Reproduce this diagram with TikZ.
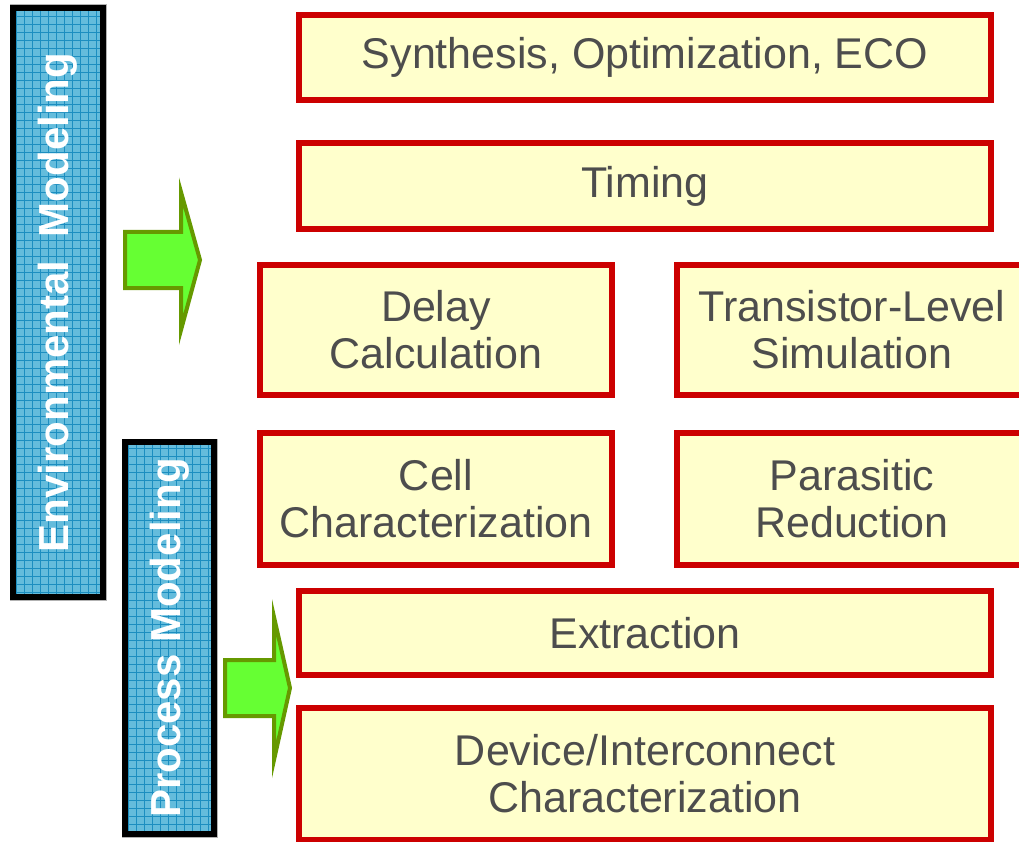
\documentclass[tikz,border=0pt]{standalone}
\usepackage{fontspec}
\setmainfont{Liberation Sans}
\definecolor{boxred}{RGB}{204,0,0}
\definecolor{boxfill}{RGB}{255,255,204}
\definecolor{boxtext}{RGB}{77,77,77}
\definecolor{barfill}{RGB}{100,188,220}
\definecolor{bargrid}{RGB}{28,142,192}
\definecolor{arrowfill}{RGB}{102,255,51}
\definecolor{arrowline}{RGB}{102,153,0}
\tikzset{
  stagenode/.style={draw=boxred, fill=boxfill, line width=6, text=boxtext,
    align=center, inner sep=0pt, font=\fontsize{43}{47}\selectfont},
  bartext/.style={text=white, inner sep=0pt, font=\fontsize{42}{47}\selectfont\bfseries},
  greenarrow/.style={draw=arrowline, fill=arrowfill, line width=4, line join=miter}
}
% name, outer x1, y1, x2, y2, label
\newcommand{\stagebox}[6]{\node[stagenode, minimum width={#4-#2-6}, minimum height={#5-#3-6}] (#1) at ({(#2+#4)/2},{(#3+#5)/2}) {#6};}
% name, outer x1, y1, x2, y2, label
\newcommand{\modelbar}[6]{
  \fill[barfill] (#2,#3) rectangle (#4,#5);
  \begin{scope}
    \clip (#2,#3) rectangle (#4,#5);
    \draw[bargrid, line width=0.8, step=8pt] (#2,#5) grid (#4,#3);
  \end{scope}
  \draw[gray!60, line width=1] (#2,#3) rectangle (#4,#5);
  \draw[black, line width=6] (#2+3,#3+3) rectangle (#4-3,#5-3);
  \node[bartext, rotate=90] (#1) at ({(#2+#4)/2},{(#3+#5)/2}) {#6};
}
\begin{document}
\begin{tikzpicture}[x=1pt, y=-1pt]
  \useasboundingbox (0,0) rectangle (1019,842);

  % flow stages
  \stagebox{synth}{296}{12}{994}{103}{Synthesis, Optimization, ECO}
  \stagebox{timing}{296}{140}{994}{232}{Timing}
  % left / right pairs
  \stagebox{delay}{257}{262}{615}{398}{Delay\\Calculation}
  \stagebox{spice}{674}{262}{1030}{398}{Transistor-Level\\Simulation}
  \stagebox{cellchar}{257}{430}{615}{568}{Cell\\Characterization}
  \stagebox{reduce}{674}{430}{1030}{568}{Parasitic\\Reduction}
  % bottom
  \stagebox{extract}{296}{588}{994}{678}{Extraction}
  \stagebox{devchar}{296}{705}{994}{843}{Device/Interconnect\\Characterization}

  % side bars
  \modelbar{envmod}{10}{5}{106}{600}{Environmental\ \ Modeling}
  \modelbar{procmod}{122}{439}{217}{837}{Process Modeling}

  % arrows
  \draw[greenarrow] (125,232) -- (181,232) -- (181,192) -- (200,260)
    -- (181,330) -- (181,288) -- (125,288) -- cycle;
  \draw[greenarrow] (225,660) -- (274,660) -- (274,617) -- (290,688)
    -- (274,760) -- (274,716) -- (225,716) -- cycle;
\end{tikzpicture}
\end{document}
